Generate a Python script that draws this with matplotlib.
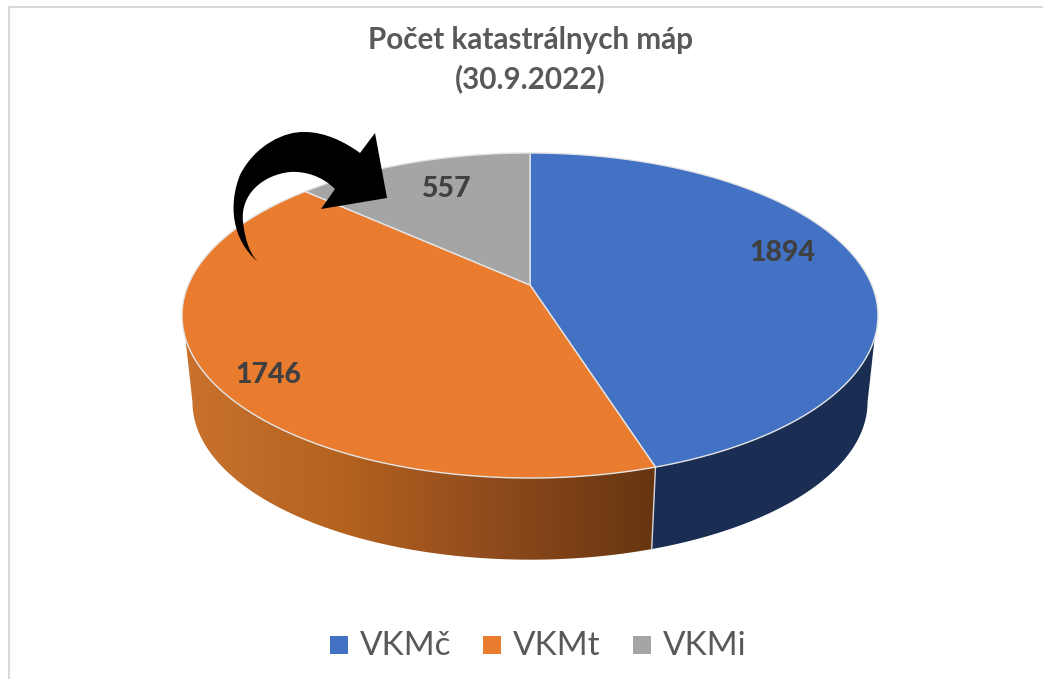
import numpy as np
import matplotlib
matplotlib.use("Agg")
import matplotlib.pyplot as plt
from matplotlib.patches import Polygon, PathPatch, Rectangle
from matplotlib.path import Path

categories = ["VKMč", "VKMt", "VKMi"]
values = [1894, 1746, 557]
colors = ["#4371C3", "#EA7C30", "#A5A5A5"]
title = "Počet katastrálnych máp\n(30.9.2022)"

# projection of the tilted disc, in pixels
cx = 530
sx = 341.8
a = -103.3
b = 285
c = 0.1877
# bottom rim is the top rim shrunk and pushed down
rim_k = 0.97
rim_d = 96


def top(theta):
    u, v = np.sin(theta), np.cos(theta)
    d = 1 + c * v
    return cx + sx * u / d, (a * v + b) / d


def bottom(theta):
    x, y = top(theta)
    return cx + rim_k * (x - cx), rim_k * y + rim_d


def arc(f, t0, t1, n=200):
    x, y = f(np.linspace(t0, t1, n))
    return np.column_stack([x, y])


fig = plt.figure(figsize=(10.43, 6.79), dpi=100)
ax = fig.add_axes([0, 0, 1, 1])
ax.set_xlim(0, 1043)
ax.set_ylim(679, 0)
ax.axis("off")

# chart frame (only left and top show)
ax.plot([9, 9, 1043], [679, 7, 7], color="#D9D9D9", lw=1.5, zorder=1)

edges = np.cumsum([0] + values) / sum(values) * 2 * np.pi

# sides
t_right, t_left = np.radians(108.5), np.radians(251.5)
blue_side = np.vstack([arc(top, t_right, edges[1]), arc(bottom, edges[1], np.radians(100.8))])
ax.add_patch(Polygon(blue_side, closed=True, fc="#1A2D52", ec="none", zorder=2))

orange_side = np.vstack([arc(top, edges[1], t_left), arc(bottom, np.radians(259.2), edges[1])])
poly = Polygon(orange_side, closed=True, fc="none", ec="none", zorder=2)
ax.add_patch(poly)
grad = np.linspace(0, 1, 256).reshape(1, -1)
cmap = matplotlib.colors.LinearSegmentedColormap.from_list(
    "side", ["#C8722D", "#B5621F", "#8E4A1C", "#663510"])
im = ax.imshow(grad, extent=[185, 655, 560, 330], aspect="auto", cmap=cmap, zorder=2)
im.set_clip_path(poly)
ax.set_xlim(0, 1043)
ax.set_ylim(679, 0)

# seam between the two sides
ax.plot(*zip(top(edges[1]), bottom(edges[1])), color="#D8D8D8", lw=1, zorder=3)

# top face
for i in range(3):
    pts = np.vstack([[cx, b], arc(top, edges[i], edges[i + 1])])
    ax.add_patch(Polygon(pts, closed=True, fc=colors[i], ec="#E4E4E4", lw=1, zorder=4))

# data labels
label_pos = [(782, 253), (268, 375), (447, 189)]
for v, (x, y) in zip(values, label_pos):
    ax.text(x, y, str(v), ha="center", va="center", family="Lato",
            fontweight=900, fontsize=20.5, color="#404040", zorder=5)

# black curved arrow pasted over the chart
verts = [
    (258, 262),
    (232, 240), (228, 205), (240, 175),
    (255, 145), (285, 131), (305, 132),
    (325, 132), (345, 142), (360, 153),
    (375, 133),
    (387, 198),
    (321, 209),
    (335, 189),
    (322, 176), (305, 171), (290, 172),
    (262, 175), (240, 195), (243, 222),
    (245, 240), (250, 254), (258, 262),
]
codes = [Path.MOVETO,
         Path.CURVE4, Path.CURVE4, Path.CURVE4,
         Path.CURVE4, Path.CURVE4, Path.CURVE4,
         Path.CURVE4, Path.CURVE4, Path.CURVE4,
         Path.LINETO, Path.LINETO, Path.LINETO, Path.LINETO,
         Path.CURVE4, Path.CURVE4, Path.CURVE4,
         Path.CURVE4, Path.CURVE4, Path.CURVE4,
         Path.CURVE4, Path.CURVE4, Path.CURVE4]
ax.add_patch(PathPatch(Path(verts, codes), fc="black", ec="none", zorder=6))

ax.text(530, 60, title, ha="center", va="center", family="Lato", fontweight="bold",
        fontsize=21.3, color="#595959", linespacing=1.42, zorder=5)

# legend
swatch_x = [330, 483, 633]
for name, col, x in zip(categories, colors, swatch_x):
    ax.add_patch(Rectangle((x, 636), 18, 18, fc=col, ec="none", zorder=5))
    ax.text(x + 30, 655, name, ha="left", va="baseline", family="Lato",
            fontsize=24, color="#595959", zorder=5)

plt.savefig("out.png", dpi=100)
